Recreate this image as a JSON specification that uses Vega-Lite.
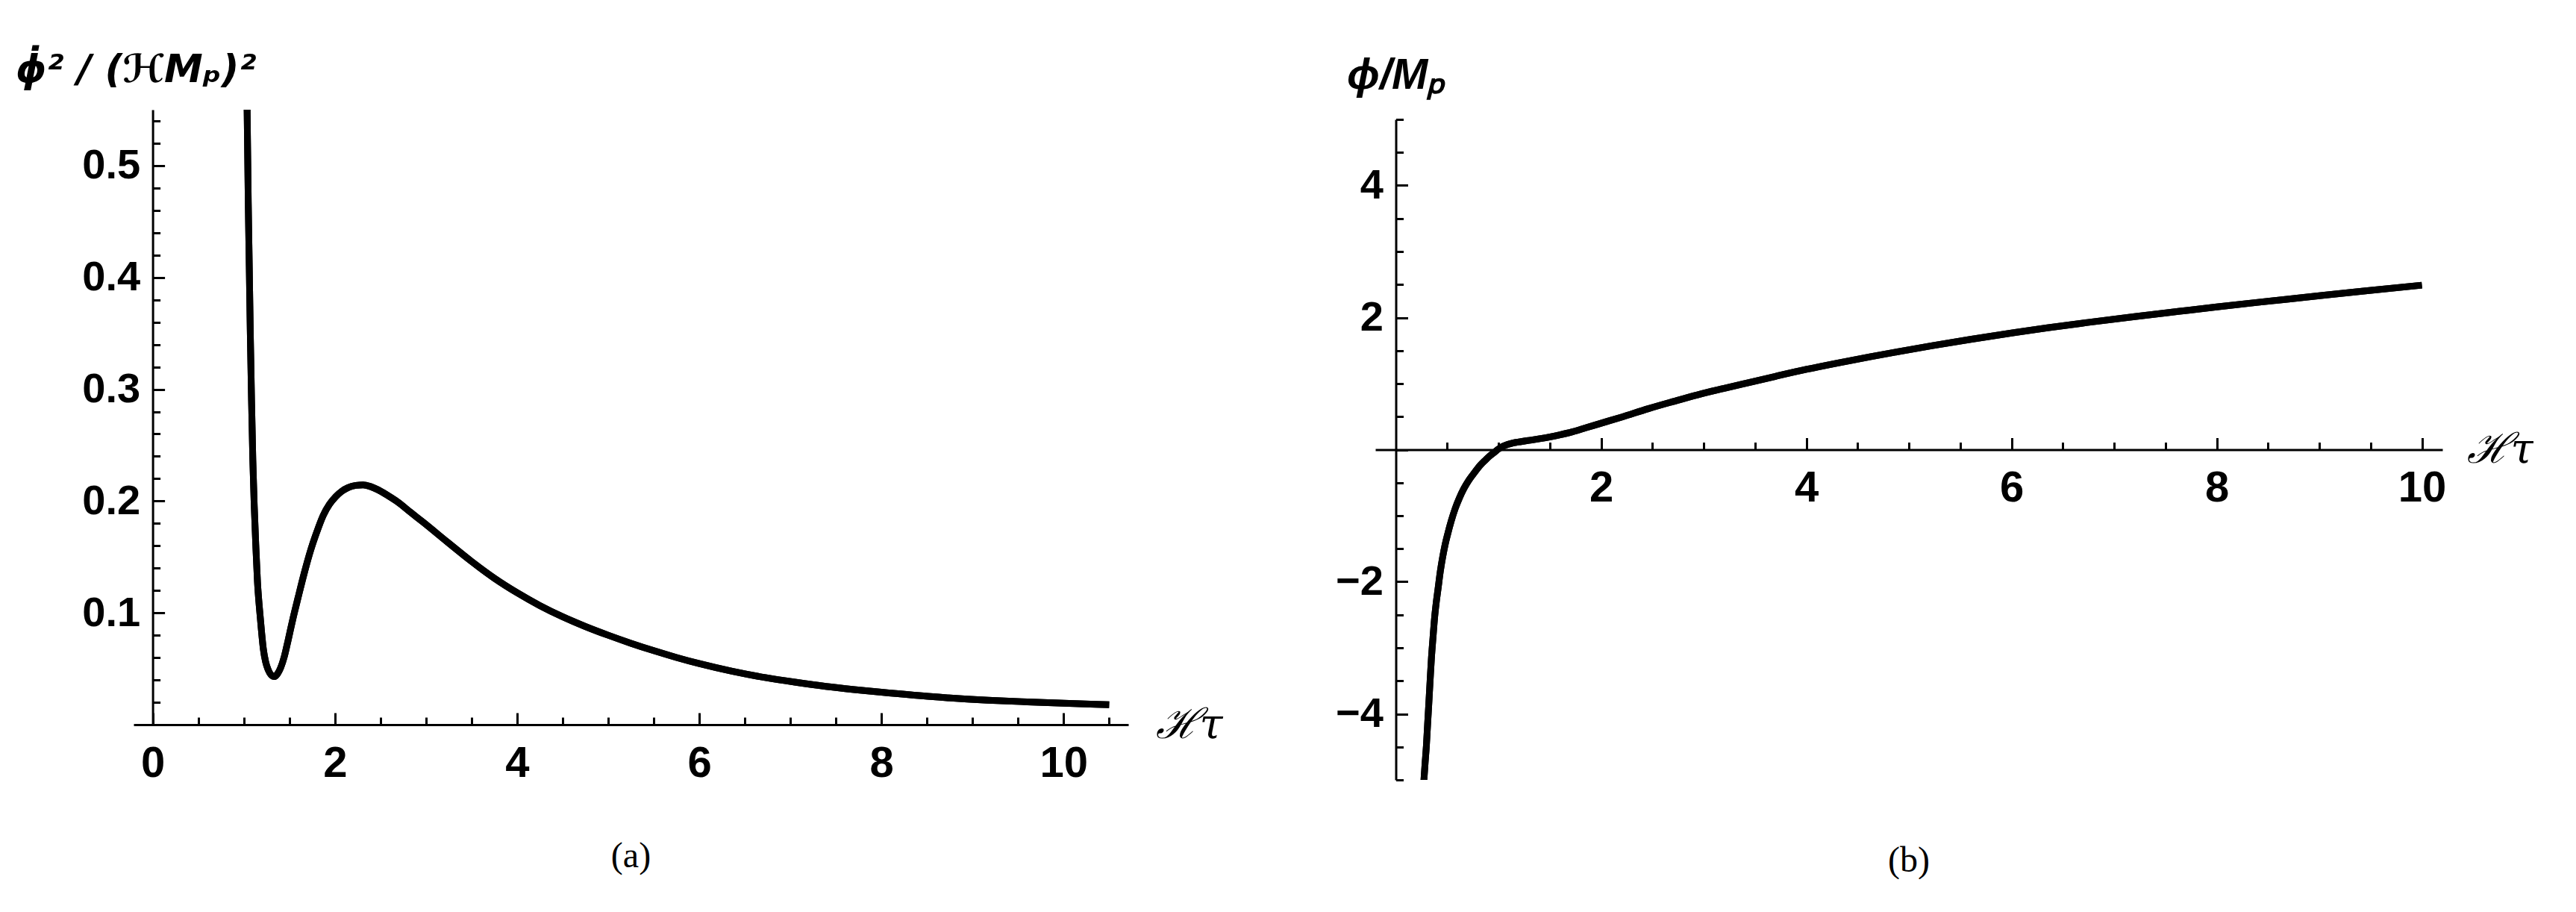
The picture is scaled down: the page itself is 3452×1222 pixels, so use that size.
{
  "$schema": "https://vega.github.io/schema/vega-lite/v6.json",
  "background": "white",
  "padding": {"left": 20, "top": 7, "right": 0, "bottom": 0},
  "spacing": 151,
  "config": {
    "view": {"stroke": null},
    "axis": {
      "domainColor": "black", "domainWidth": 3, "tickColor": "black", "tickWidth": 3,
      "labelColor": "black", "labelFont": "Liberation Sans", "labelFontWeight": "bold",
      "grid": false, "labelFlush": false, "labelOverlap": false,
      "titleColor": "black", "titleAngle": 0
    }
  },
  "datasets": {
    "a": [
      {"x": 1.030, "y": 0.58}, {"x": 1.036, "y": 0.553}, {"x": 1.049, "y": 0.467}, {"x": 1.060, "y": 0.41},
      {"x": 1.071, "y": 0.352}, {"x": 1.085, "y": 0.29}, {"x": 1.099, "y": 0.237}, {"x": 1.115, "y": 0.195},
      {"x": 1.132, "y": 0.160}, {"x": 1.150, "y": 0.128}, {"x": 1.173, "y": 0.103}, {"x": 1.195, "y": 0.083},
      {"x": 1.214, "y": 0.068}, {"x": 1.240, "y": 0.056}, {"x": 1.268, "y": 0.049}, {"x": 1.300, "y": 0.0445},
      {"x": 1.337, "y": 0.043}, {"x": 1.370, "y": 0.0455}, {"x": 1.405, "y": 0.051}, {"x": 1.445, "y": 0.061},
      {"x": 1.488, "y": 0.076}, {"x": 1.540, "y": 0.095}, {"x": 1.597, "y": 0.114}, {"x": 1.665, "y": 0.136},
      {"x": 1.734, "y": 0.156}, {"x": 1.800, "y": 0.172}, {"x": 1.871, "y": 0.187}, {"x": 1.940, "y": 0.197},
      {"x": 2.010, "y": 0.204}, {"x": 2.080, "y": 0.209}, {"x": 2.145, "y": 0.212}, {"x": 2.230, "y": 0.214},
      {"x": 2.310, "y": 0.2145}, {"x": 2.390, "y": 0.213}, {"x": 2.475, "y": 0.210}, {"x": 2.580, "y": 0.205},
      {"x": 2.693, "y": 0.199}, {"x": 2.830, "y": 0.190}, {"x": 2.970, "y": 0.181}, {"x": 3.240, "y": 0.163},
      {"x": 3.500, "y": 0.146}, {"x": 3.750, "y": 0.131}, {"x": 4.000, "y": 0.118}, {"x": 4.250, "y": 0.1065},
      {"x": 4.500, "y": 0.0965}, {"x": 4.750, "y": 0.0878}, {"x": 5.000, "y": 0.0800}, {"x": 5.250, "y": 0.0728},
      {"x": 5.500, "y": 0.0662}, {"x": 5.750, "y": 0.0601}, {"x": 6.000, "y": 0.0546}, {"x": 6.360, "y": 0.0478},
      {"x": 6.725, "y": 0.0421}, {"x": 7.050, "y": 0.0380}, {"x": 7.390, "y": 0.0342}, {"x": 7.700, "y": 0.0314},
      {"x": 8.000, "y": 0.0290}, {"x": 8.510, "y": 0.0253}, {"x": 9.170, "y": 0.0219}, {"x": 9.600, "y": 0.0204},
      {"x": 10.000, "y": 0.0192}, {"x": 10.500, "y": 0.0178}
    ],
    "b": [
      {"x": 0.273, "y": -5.02}, {"x": 0.285, "y": -4.75}, {"x": 0.298, "y": -4.48}, {"x": 0.310, "y": -4.15},
      {"x": 0.322, "y": -3.83}, {"x": 0.334, "y": -3.50}, {"x": 0.346, "y": -3.18}, {"x": 0.362, "y": -2.85},
      {"x": 0.378, "y": -2.54}, {"x": 0.395, "y": -2.30}, {"x": 0.412, "y": -2.10}, {"x": 0.433, "y": -1.85},
      {"x": 0.456, "y": -1.63}, {"x": 0.480, "y": -1.44}, {"x": 0.505, "y": -1.28}, {"x": 0.540, "y": -1.08},
      {"x": 0.578, "y": -0.894}, {"x": 0.620, "y": -0.73}, {"x": 0.663, "y": -0.59}, {"x": 0.715, "y": -0.455},
      {"x": 0.773, "y": -0.333}, {"x": 0.820, "y": -0.24}, {"x": 0.871, "y": -0.16}, {"x": 0.920, "y": -0.09},
      {"x": 0.968, "y": -0.03}, {"x": 1.000, "y": 0.01}, {"x": 1.040, "y": 0.048}, {"x": 1.090, "y": 0.078},
      {"x": 1.140, "y": 0.10}, {"x": 1.220, "y": 0.122}, {"x": 1.310, "y": 0.143}, {"x": 1.400, "y": 0.165},
      {"x": 1.505, "y": 0.194}, {"x": 1.600, "y": 0.225}, {"x": 1.720, "y": 0.27}, {"x": 1.850, "y": 0.33},
      {"x": 2.000, "y": 0.40}, {"x": 2.205, "y": 0.495}, {"x": 2.460, "y": 0.62}, {"x": 2.700, "y": 0.727},
      {"x": 2.940, "y": 0.83}, {"x": 3.200, "y": 0.928}, {"x": 3.410, "y": 1.005}, {"x": 3.700, "y": 1.11},
      {"x": 4.000, "y": 1.215}, {"x": 4.300, "y": 1.31}, {"x": 4.620, "y": 1.405}, {"x": 4.900, "y": 1.485},
      {"x": 5.230, "y": 1.575}, {"x": 5.600, "y": 1.67}, {"x": 6.000, "y": 1.765}, {"x": 6.350, "y": 1.845},
      {"x": 6.740, "y": 1.925}, {"x": 7.200, "y": 2.015}, {"x": 7.640, "y": 2.095}, {"x": 8.000, "y": 2.16},
      {"x": 8.400, "y": 2.23}, {"x": 8.850, "y": 2.305}, {"x": 9.450, "y": 2.405}, {"x": 10.000, "y": 2.49}
    ]
  },
  "hconcat": [
    {
      "width": 1333,
      "height": 824,
      "data": {"name": "a"},
      "title": {"text": "(a)", "orient": "bottom", "anchor": "middle", "frame": "group", "font": "Liberation Serif", "fontSize": 48, "fontWeight": "normal", "color": "black", "offset": 72},
      "layer": [
        {
          "mark": {"type": "line", "color": "black", "strokeWidth": 9, "clip": true, "interpolate": "monotone"},
          "encoding": {
            "x": {"field": "x", "type": "quantitative",
              "scale": {"domain": [-0.21, 10.71], "nice": false, "zero": false},
              "axis": {"orient": "bottom", "offset": 0, "values": [0, 2, 4, 6, 8, 10], "format": "d",
                "tickSize": -16, "labelPadding": 39, "labelFontSize": 58,
                "title": "ℋτ", "titleFont": "DejaVu Serif", "titleFontStyle": "italic", "titleFontWeight": "normal", "titleFontSize": 56,
                "titleX": 1369, "titleY": 0, "titleAlign": "left", "titleBaseline": "middle"}},
            "y": {"field": "y", "type": "quantitative",
              "scale": {"domain": [0, 0.55], "nice": false, "zero": false},
              "axis": {"orient": "left", "offset": -25.6, "values": [0.1, 0.2, 0.3, 0.4, 0.5], "format": ".1f",
                "tickSize": -16, "labelPadding": 33, "labelFontSize": 56,
                "title": "ϕ̇² / (ℋMₚ)²", "titleFont": "DejaVu Sans", "titleFontStyle": "italic", "titleFontWeight": "bold", "titleFontSize": 52,
                "titleX": -184, "titleY": -38, "titleAlign": "left", "titleBaseline": "alphabetic"}}
          }
        },
        {
          "mark": {"type": "line", "color": "black", "strokeWidth": 9, "clip": true, "interpolate": "monotone"},
          "encoding": {
            "x": {"field": "x", "type": "quantitative",
              "axis": {"orient": "bottom", "offset": 0, "values": [0.5, 1, 1.5, 2.5, 3, 3.5, 4.5, 5, 5.5, 6.5, 7, 7.5, 8.5, 9, 9.5, 10.5],
                "tickSize": -10, "labels": false, "domain": false, "title": null}},
            "y": {"field": "y", "type": "quantitative",
              "axis": {"orient": "left", "offset": -25.6, "values": [0.02, 0.04, 0.06, 0.08, 0.12, 0.14, 0.16, 0.18, 0.22, 0.24, 0.26, 0.28, 0.32, 0.34, 0.36, 0.38, 0.42, 0.44, 0.46, 0.48, 0.52, 0.54],
                "tickSize": -10, "labels": false, "domain": false,
                "title": ".", "titleOpacity": 0, "titleFontSize": 10, "titleBaseline": "top", "titleX": 0, "titleY": -140}}
          }
        }
      ],
      "resolve": {"axis": {"x": "independent", "y": "independent"}}
    },
    {
      "width": 1430,
      "height": 898,
      "data": {"name": "b"},
      "title": {"text": "(b)", "orient": "bottom", "anchor": "middle", "frame": "group", "font": "Liberation Serif", "fontSize": 48, "fontWeight": "normal", "color": "black", "offset": 83},
      "layer": [
        {
          "mark": {"type": "line", "color": "black", "strokeWidth": 9, "clip": true, "interpolate": "monotone"},
          "encoding": {
            "x": {"field": "x", "type": "quantitative",
              "scale": {"domain": [-0.2, 10.2], "nice": false, "zero": false},
              "axis": {"orient": "bottom", "offset": -442.5, "values": [2, 4, 6, 8, 10], "format": "d",
                "tickSize": -16, "labelPadding": 39, "labelFontSize": 58,
                "title": "ℋτ", "titleFont": "DejaVu Serif", "titleFontStyle": "italic", "titleFontWeight": "normal", "titleFontSize": 56,
                "titleX": 1462, "titleY": 0, "titleAlign": "left", "titleBaseline": "middle"}},
            "y": {"field": "y", "type": "quantitative",
              "scale": {"domain": [-5, 5], "nice": false, "zero": false, "range": [898, 13]},
              "axis": {"orient": "left", "offset": -27.5, "values": [-4, -2, 0, 2, 4], "format": "d",
                "labelExpr": "datum.value == 0 ? '' : datum.label",
                "tickSize": -16, "labelPadding": 33, "labelFontSize": 56,
                "title": "ϕ/Mₚ", "titleFont": "Liberation Sans", "titleFontStyle": "italic", "titleFontWeight": "bold", "titleFontSize": 58,
                "titleX": -66, "titleY": -29, "titleAlign": "left", "titleBaseline": "alphabetic"}}
          }
        },
        {
          "mark": {"type": "line", "color": "black", "strokeWidth": 9, "clip": true, "interpolate": "monotone"},
          "encoding": {
            "x": {"field": "x", "type": "quantitative",
              "axis": {"orient": "bottom", "offset": -442.5, "values": [0.5, 1, 1.5, 2.5, 3, 3.5, 4.5, 5, 5.5, 6.5, 7, 7.5, 8.5, 9, 9.5],
                "tickSize": -10, "labels": false, "domain": false, "title": null}},
            "y": {"field": "y", "type": "quantitative",
              "axis": {"orient": "left", "offset": -27.5, "values": [-5, -4.5, -3.5, -3, -2.5, -1.5, -1, -0.5, 0.5, 1, 1.5, 2.5, 3, 3.5, 4.5, 5],
                "tickSize": -10, "labels": false, "domain": false, "title": null}}
          }
        }
      ],
      "resolve": {"axis": {"x": "independent", "y": "independent"}}
    }
  ]
}
